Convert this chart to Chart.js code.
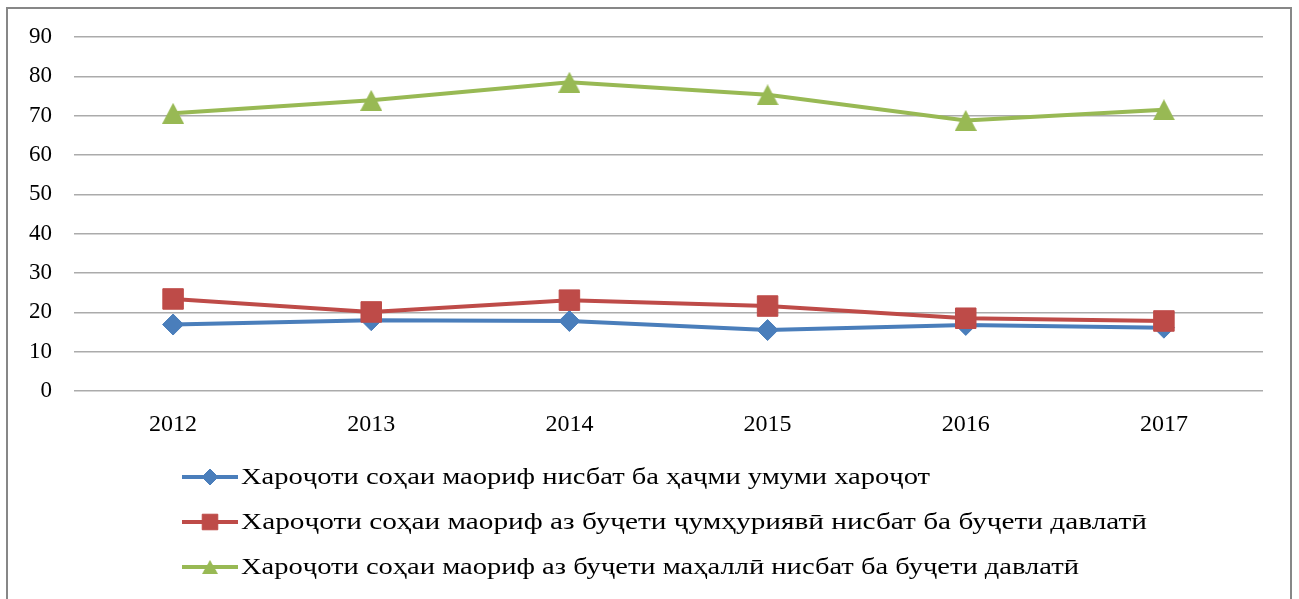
<!DOCTYPE html>
<html>
<head>
<meta charset="utf-8">
<script src="https://cdn.jsdelivr.net/npm/chart.js@4/dist/chart.umd.min.js"></script>
<style>
html,body{margin:0;padding:0;background:#fff;}
#wrap{position:absolute;left:0;top:0;width:1299px;height:599px;}
</style>
</head>
<body>
<div id="wrap"><canvas id="c" width="1299" height="599"></canvas></div>
<script>
const years = ['2012', '2013', '2014', '2015', '2016', '2017'];
const seriesNames = [
  'Хароҷоти соҳаи маориф нисбат ба ҳаҷми умуми хароҷот',
  'Хароҷоти соҳаи маориф аз буҷети ҷумҳуриявӣ нисбат ба буҷети давлатӣ',
  'Хароҷоти соҳаи маориф аз буҷети маҳаллӣ нисбат ба буҷети давлатӣ'
];
const totalShare = [16.9, 18.0, 17.8, 15.5, 16.8, 16.1];
const republicanShare = [23.4, 20.1, 23.1, 21.6, 18.5, 17.8];
const localShare = [70.6, 73.9, 78.5, 75.3, 68.8, 71.5];
const yTicks = [0, 10, 20, 30, 40, 50, 60, 70, 80, 90];

const FONT = '"Liberation Serif", "Times New Roman", serif';

function triangleImage(w, h, color) {
  const cv = document.createElement('canvas');
  cv.width = w; cv.height = h;
  const c = cv.getContext('2d');
  c.fillStyle = color;
  c.beginPath();
  c.moveTo(w / 2, 0);
  c.lineTo(w, h);
  c.lineTo(0, h);
  c.closePath();
  c.fill();
  return cv;
}

const frame = {
  id: 'frame',
  beforeDraw(chart) {
    const ctx = chart.ctx;
    ctx.save();
    ctx.fillStyle = '#ffffff';
    ctx.fillRect(0, 0, chart.width, chart.height);
    ctx.strokeStyle = '#878787';
    ctx.lineWidth = 2;
    ctx.strokeRect(7, 8, 1284, 610);
    ctx.restore();
  }
};

const lineLegend = {
  id: 'lineLegend',
  afterDraw(chart) {
    const ctx = chart.ctx;
    const x0 = 182, x1 = 238, textX = 241;
    const ys = [477, 522, 567];
    const legendRadius = [8, 11, 9];
    ctx.save();
    chart.data.datasets.forEach((ds, i) => {
      const y = ys[i];
      const cx = (x0 + x1) / 2;
      ctx.strokeStyle = ds.borderColor;
      ctx.lineWidth = 4;
      ctx.beginPath();
      ctx.moveTo(x0, y);
      ctx.lineTo(x1, y);
      ctx.stroke();
      if (ds.pointStyle instanceof HTMLCanvasElement) {
        const lw = 16, lh = 14;
        ctx.drawImage(ds.pointStyle, cx - lw / 2, y - lh / 2, lw, lh);
      } else {
        ctx.fillStyle = ds.pointBackgroundColor;
        ctx.strokeStyle = ds.pointBorderColor;
        ctx.lineWidth = 1;
        Chart.helpers.drawPoint(ctx, {pointStyle: ds.pointStyle, radius: legendRadius[i], borderWidth: 1, rotation: 0}, cx, y);
      }
      ctx.save();
      ctx.translate(textX, y + 1);
      ctx.fillStyle = '#000000';
      ctx.font = '24px ' + FONT;
      const target = [689, 906, 838][i];
      const natural = ctx.measureText(ds.label).width;
      ctx.scale(target / natural, 1);
      ctx.textAlign = 'left';
      ctx.textBaseline = 'middle';
      ctx.fillText(ds.label, 0, 0);
      ctx.restore();
    });
    ctx.restore();
  }
};

const mk = (label, data, color, style, r, order) => ({
  label, data,
  borderColor: color,
  backgroundColor: color,
  pointBackgroundColor: color,
  pointBorderColor: color,
  pointBorderWidth: 1,
  borderWidth: 4,
  pointStyle: style,
  pointRadius: r,
  pointHoverRadius: r,
  tension: 0,
  order
});

function build() {
  new Chart(document.getElementById('c'), {
    type: 'line',
    data: {
      labels: years,
      datasets: [
        mk(seriesNames[0], totalShare, '#4A7EBB', 'rectRot', 10.5, 3),
        mk(seriesNames[1], republicanShare, '#BE4B48', 'rect', 14.5, 2),
        mk(seriesNames[2], localShare, '#98B954', triangleImage(22, 21, '#98B954'), 12, 1)
      ]
    },
    options: {
      responsive: false,
      animation: false,
      devicePixelRatio: 1,
      layout: {padding: {left: 0, right: 36, top: 37, bottom: 158}},
      plugins: {legend: {display: false}, tooltip: {enabled: false}},
      scales: {
        x: {
          offset: true,
          grid: {display: false, drawTicks: false},
          border: {display: false},
          ticks: {color: '#000', font: {family: FONT, size: 24}, padding: 19},
          afterFit(scale) { scale.height = 50; }
        },
        y: {
          min: yTicks[0],
          max: yTicks[yTicks.length - 1],
          afterBuildTicks(scale) { scale.ticks = yTicks.map(v => ({value: v})); },
          grid: {color: '#ababab', lineWidth: 1.5, drawTicks: false},
          border: {display: false},
          ticks: {color: '#000', font: {family: FONT, size: 23}, padding: 22},
          afterFit(scale) { scale.width = 74; }
        }
      }
    },
    plugins: [frame, lineLegend]
  });
}

Promise.all([
  document.fonts.load('24px "Liberation Serif"', 'Хароҷоти 2012'),
  document.fonts.load('23px "Liberation Serif"', '90')
]).then(build, build);
</script>
</body>
</html>
